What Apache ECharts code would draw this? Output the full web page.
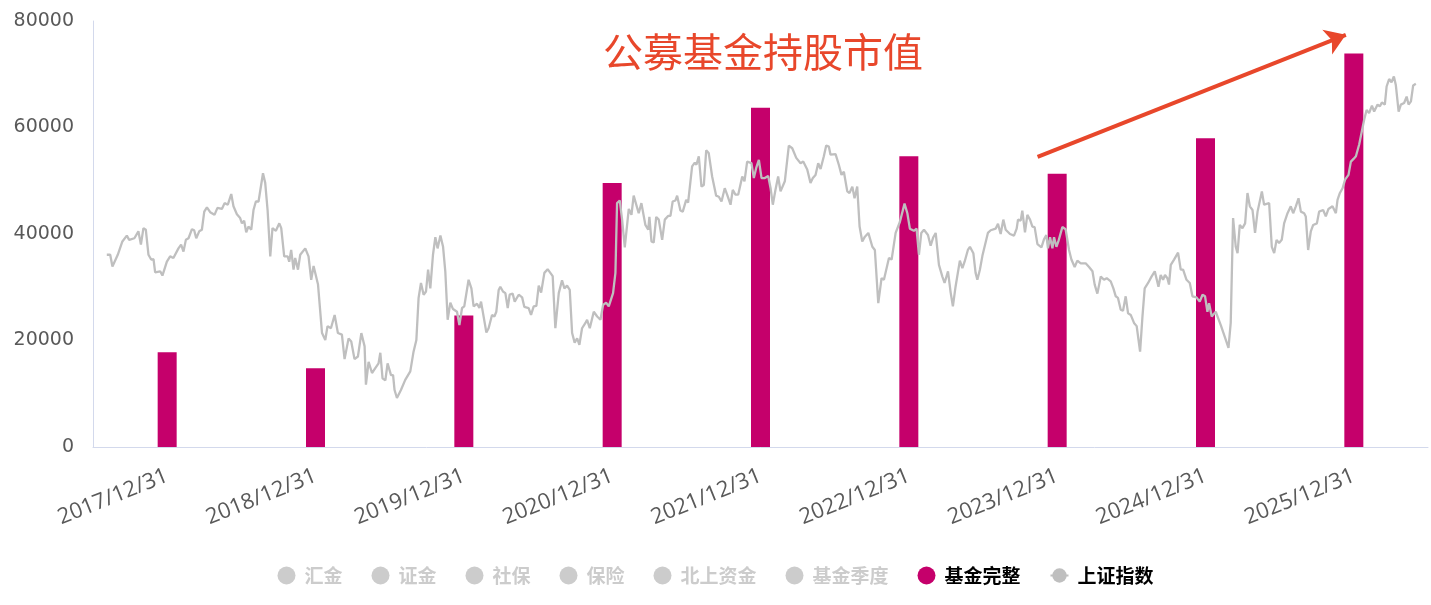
<!DOCTYPE html>
<html>
<head>
<meta charset="utf-8">
<script src="https://cdn.jsdelivr.net/npm/echarts@6/dist/echarts.min.js"></script>
<style>html,body{margin:0;padding:0;background:#fff;}#c{width:1431px;height:605px;}</style>
</head>
<body>
<div id="c"></div>
<script>
// Year-end positions (decimal year; 2018.0 = 2017/12/31)
const barX = [2018, 2019, 2020, 2021, 2022, 2023, 2024, 2025, 2026];
const tickLabels = ['2017/12/31','2018/12/31','2019/12/31','2020/12/31','2021/12/31','2022/12/31','2023/12/31','2024/12/31','2025/12/31'];
const fundValues = [17800, 14800, 24700, 49600, 63700, 54600, 51300, 58000, 73900];
const legendNames = ['汇金','证金','社保','保险','北上资金','基金季度','基金完整','上证指数'];
const hiddenData = [];
const annotationText = '公募基金持股市值';
const arrowFrom = [2023.868, 54500];
const arrowTo = [2025.946, 77400];
// 上证指数 (scaled onto the left axis), [decimal year, value]
const shIndex = [
[2017.593,36100],[2017.616,36100],[2017.631,33900],[2017.667,36100],[2017.698,38600],[2017.728,39700],[2017.744,38900],[2017.779,39200],[2017.806,40500],[2017.823,38000],[2017.840,41100],[2017.856,40800],[2017.874,36100],[2017.892,35200],[2017.908,35300],[2017.919,32800],[2017.953,33000],[2017.968,32200],[2017.998,34800],[2018.020,35800],[2018.042,35500],[2018.076,37300],[2018.094,38000],[2018.110,36700],[2018.126,38900],[2018.144,39200],[2018.167,40900],[2018.182,40700],[2018.196,39200],[2018.216,40500],[2018.234,40800],[2018.250,44200],[2018.268,45000],[2018.290,44100],[2018.319,43600],[2018.339,44900],[2018.369,44700],[2018.387,45800],[2018.409,45500],[2018.432,47500],[2018.447,45200],[2018.470,43700],[2018.492,43000],[2018.504,42000],[2018.519,42500],[2018.533,40300],[2018.548,41400],[2018.567,40800],[2018.582,44500],[2018.598,46100],[2018.616,46100],[2018.646,51400],[2018.661,49600],[2018.677,44500],[2018.695,35800],[2018.710,41100],[2018.733,40600],[2018.756,42000],[2018.769,41100],[2018.789,35800],[2018.812,35800],[2018.823,34800],[2018.836,37000],[2018.852,33300],[2018.863,35500],[2018.882,33300],[2018.897,36100],[2018.931,37300],[2018.953,35800],[2018.971,31400],[2018.987,34000],[2019.017,30500],[2019.044,21400],[2019.066,20100],[2019.081,22700],[2019.104,22300],[2019.129,24800],[2019.151,21400],[2019.178,21100],[2019.196,16500],[2019.223,20400],[2019.241,19800],[2019.263,16500],[2019.286,17000],[2019.309,21400],[2019.331,18900],
[2019.340,11700],[2019.358,16000],[2019.381,13900],[2019.403,14800],[2019.425,15700],[2019.437,17700],[2019.452,12900],[2019.471,12500],[2019.486,15700],[2019.509,13500],[2019.523,13500],[2019.533,10700],[2019.549,9200],[2019.576,10700],[2019.605,12600],[2019.639,14200],[2019.661,17900],[2019.680,20100],[2019.695,28000],[2019.711,30800],[2019.729,28600],[2019.745,29200],[2019.759,33300],[2019.774,29800],[2019.792,36100],[2019.808,39400],[2019.823,37300],[2019.842,39700],[2019.860,37600],[2019.875,33000],[2019.891,23900],[2019.909,27100],[2019.927,25900],[2019.954,25400],[2019.970,22900],[2019.988,26100],[2020.003,26400],[2020.032,31400],[2020.051,29800],[2020.066,26400],[2020.089,26900],[2020.105,26100],[2020.116,27300],[2020.152,21500],[2020.167,22300],[2020.190,24800],[2020.206,24500],[2020.219,25400],[2020.235,29500],[2020.246,30100],[2020.264,29200],[2020.280,28900],[2020.296,26100],[2020.309,28600],[2020.329,28800],[2020.343,27300],[2020.370,28600],[2020.393,28100],[2020.408,26300],[2020.437,26100],[2020.453,24800],[2020.471,26400],[2020.489,26500],[2020.505,30300],[2020.521,29000],[2020.543,32700],[2020.565,33400],[2020.599,32100],[2020.617,22300],[2020.640,28900],[2020.662,31300],[2020.678,29800],[2020.696,30300],[2020.714,29500],[2020.730,21400],[2020.747,19600],[2020.764,20400],[2020.779,19200],[2020.797,22300],[2020.820,23300],[2020.831,23900],[2020.849,22300],[2020.876,25400],[2020.899,24500],[2020.921,23900],[2020.939,26700],[2020.959,27100],[2020.977,26400],[2021.006,28900],[2021.022,32700],[2021.033,45800],[2021.051,46300],[2021.067,42700],[2021.085,37500],[2021.112,44700],
[2021.130,43600],[2021.145,47200],[2021.179,43900],[2021.197,45800],[2021.224,41700],[2021.243,40800],[2021.251,43200],[2021.265,38600],[2021.280,38400],[2021.297,43200],[2021.314,42700],[2021.337,38900],[2021.355,42700],[2021.377,43400],[2021.393,43400],[2021.408,46100],[2021.427,46300],[2021.438,47200],[2021.460,44400],[2021.476,44200],[2021.499,46400],[2021.512,45900],[2021.539,52700],[2021.557,53400],[2021.568,53000],[2021.584,54600],[2021.602,48900],[2021.618,49200],[2021.634,55700],[2021.651,55200],[2021.674,50800],[2021.701,47200],[2021.719,47000],[2021.737,46100],[2021.759,48600],[2021.775,47400],[2021.798,45500],[2021.813,48300],[2021.831,47400],[2021.850,47400],[2021.877,50800],[2021.892,49900],[2021.910,53600],[2021.939,53300],[2021.955,50500],[2021.971,52400],[2021.989,53900],[2022.007,50500],[2022.029,50500],[2022.052,50900],[2022.068,48600],[2022.083,45500],[2022.101,48300],[2022.119,50800],[2022.135,48000],[2022.164,49900],[2022.191,56600],[2022.214,56100],[2022.241,54300],[2022.270,53300],[2022.288,53600],[2022.315,52100],[2022.337,49600],[2022.353,50500],[2022.371,51100],[2022.389,53300],[2022.405,52200],[2022.427,54600],[2022.443,56600],[2022.461,56400],[2022.472,54900],[2022.506,55000],[2022.528,53000],[2022.546,51100],[2022.562,51700],[2022.585,48000],[2022.600,47700],[2022.619,48900],[2022.634,46700],[2022.652,48900],[2022.668,41400],[2022.686,38600],[2022.704,39500],[2022.727,40200],[2022.754,37600],[2022.771,37000],[2022.794,27000],[2022.816,31700],[2022.832,31400],[2022.866,35500],[2022.884,35200],
[2022.911,40200],[2022.940,42300],[2022.971,45700],[2022.990,43900],[2023.007,41000],[2023.034,40600],[2023.052,41000],[2023.068,36100],[2023.084,40200],[2023.102,40800],[2023.129,39800],[2023.147,37800],[2023.165,39400],[2023.181,40200],[2023.203,34200],[2023.226,32000],[2023.241,30800],[2023.264,33000],[2023.282,29000],[2023.297,26400],[2023.315,30100],[2023.344,35000],[2023.361,33600],[2023.376,34800],[2023.398,37000],[2023.412,37600],[2023.435,36400],[2023.450,32700],[2023.462,31400],[2023.479,33300],[2023.496,35900],[2023.506,36100],[2023.533,40200],[2023.552,40700],[2023.585,41000],[2023.601,41900],[2023.619,40000],[2023.637,42700],[2023.653,40800],[2023.682,40000],[2023.709,39700],[2023.727,41000],[2023.736,42700],[2023.754,42500],[2023.765,44400],[2023.783,40300],[2023.799,43600],[2023.817,42700],[2023.833,41400],[2023.848,41300],[2023.867,38100],[2023.894,37500],[2023.911,39000],[2023.927,39800],[2023.938,37300],[2023.952,39400],[2023.968,37300],[2023.979,39400],[2023.995,37600],[2024.008,38600],[2024.035,41300],[2024.057,40900],[2024.080,37000],[2024.096,35200],[2024.118,33800],[2024.136,35000],[2024.159,34500],[2024.192,34500],[2024.215,33800],[2024.238,33000],[2024.253,30500],[2024.271,28800],[2024.294,32000],[2024.316,31400],[2024.334,31700],[2024.361,31100],[2024.379,29800],[2024.395,28300],[2024.410,28000],[2024.428,25800],[2024.444,25600],[2024.462,28300],[2024.478,25100],[2024.496,24800],[2024.518,23300],[2024.536,22700],[2024.559,17900],[2024.575,24500],[2024.590,29800],[2024.613,30800],[2024.636,32000],[2024.658,33000],[2024.683,30100],[2024.698,32300],[2024.714,31400],[2024.727,32300],[2024.743,31700],[2024.754,30500],[2024.766,34200],[2024.788,35200],[2024.815,36500],[2024.833,33300],[2024.849,33300],[2024.872,31400],[2024.894,30800],[2024.912,28300],[2024.939,28100],[2024.961,27300],[2024.980,28600],[2024.997,28300],[2025.013,25400],[2025.024,27000],[2025.042,24500],[2025.069,25400],[2025.103,22900],[2025.137,20100],[2025.155,18600],[2025.170,23300],[2025.186,43000],
[2025.204,37600],[2025.216,36400],[2025.231,41700],[2025.249,41100],[2025.267,42000],[2025.283,47700],[2025.299,45200],[2025.317,44500],[2025.334,40200],[2025.351,44200],[2025.380,48000],[2025.395,45500],[2025.429,45800],[2025.447,37600],[2025.463,36400],[2025.479,38900],[2025.496,38300],[2025.514,38900],[2025.530,42000],[2025.553,43900],[2025.575,45200],[2025.591,43900],[2025.609,45200],[2025.627,46700],[2025.643,44200],[2025.665,43900],[2025.676,43300],[2025.692,37000],[2025.710,40500],[2025.726,41700],[2025.751,42000],[2025.766,44200],[2025.793,44500],[2025.811,43300],[2025.829,44700],[2025.856,45200],[2025.879,43900],[2025.890,46400],[2025.906,47700],[2025.924,48600],[2025.941,50200],[2025.964,51100],[2025.980,53600],[2025.998,54100],[2026.014,54600],[2026.036,56800],[2026.054,59300],[2026.070,61500],[2026.086,63300],[2026.103,62700],[2026.122,64100],[2026.137,63000],[2026.160,64300],[2026.176,64000],[2026.189,64700],[2026.209,64300],[2026.221,67700],[2026.238,69100],[2026.254,68500],[2026.270,69600],[2026.283,68000],[2026.302,63000],[2026.317,64300],[2026.339,64600],[2026.356,65800],[2026.369,64300],[2026.385,64900],[2026.400,67900],[2026.418,68200]
];

const chart = echarts.init(document.getElementById('c'), null, {renderer: 'canvas'});
const axisColor = '#d3d9ec';
const redColor = '#e8472b';
const hiddenSeries = legendNames.slice(0, 6).map(n => ({
  name: n, type: 'line', data: hiddenData, showSymbol: false
}));
const selected = {};
legendNames.forEach((n, i) => { selected[n] = i >= 6; });

chart.setOption({
  animation: false,
  backgroundColor: '#fff',
  title: {
    text: annotationText,
    left: 598, top: 27,
    textStyle: {fontSize: 40, fontWeight: 'normal', color: redColor, fontFamily: 'Noto Sans CJK SC'}
  },
  legend: {
    top: 561,
    left: 'center',
    itemWidth: 18, itemHeight: 18, itemGap: 29,
    selected: selected,
    data: legendNames.map((n, i) => i < 7 ? {name: n, icon: 'circle'} : {name: n}),
    textStyle: {fontSize: 19, fontWeight: 'bold', color: '#000', fontFamily: 'Noto Sans CJK SC', padding: [0, 0, 0, 4]},
    inactiveColor: '#cccccc'
  },
  grid: {left: 93, right: 3, top: 21, bottom: 158, containLabel: false},
  xAxis: {
    type: 'value', min: 2017.5, max: 2026.5,
    splitLine: {show: false},
    axisLine: {show: true, onZero: false, lineStyle: {color: axisColor, width: 1}},
    axisTick: {show: false},
    axisLabel: {
      customValues: barX,
      formatter: v => tickLabels[barX.indexOf(Math.round(v))] || '',
      rotate: 22, margin: 28,
      fontSize: 22, color: '#595959', fontFamily: 'Open Sans'
    }
  },
  yAxis: {
    type: 'value', min: 0, max: 80000, interval: 20000,
    splitLine: {show: false},
    axisLine: {show: true, lineStyle: {color: axisColor, width: 1}},
    axisTick: {show: false},
    axisLabel: {fontSize: 19, color: '#595959', margin: 19, fontFamily: 'DejaVu Sans', formatter: v => String(v)}
  },
  series: hiddenSeries.concat([
    {
      name: '基金完整', type: 'bar', barWidth: 19,
      itemStyle: {color: '#c5006b'},
      data: barX.map((x, i) => [x, fundValues[i]])
    },
    {
      name: '上证指数', type: 'line', data: shIndex,
      symbol: 'circle', symbolSize: 6, showSymbol: false,
      itemStyle: {color: '#bfbfbf'},
      lineStyle: {color: '#bfbfbf', width: 2.3},
      z: 3,
      markLine: {
        silent: true,
        symbol: ['none', 'arrow'],
        symbolSize: 20,
        label: {show: false},
        lineStyle: {color: redColor, width: 4, type: 'solid', opacity: 1},
        itemStyle: {color: redColor},
        emphasis: {disabled: true},
        data: [[{coord: arrowFrom}, {coord: arrowTo}]]
      }
    }
  ])
});
</script>
</body>
</html>
